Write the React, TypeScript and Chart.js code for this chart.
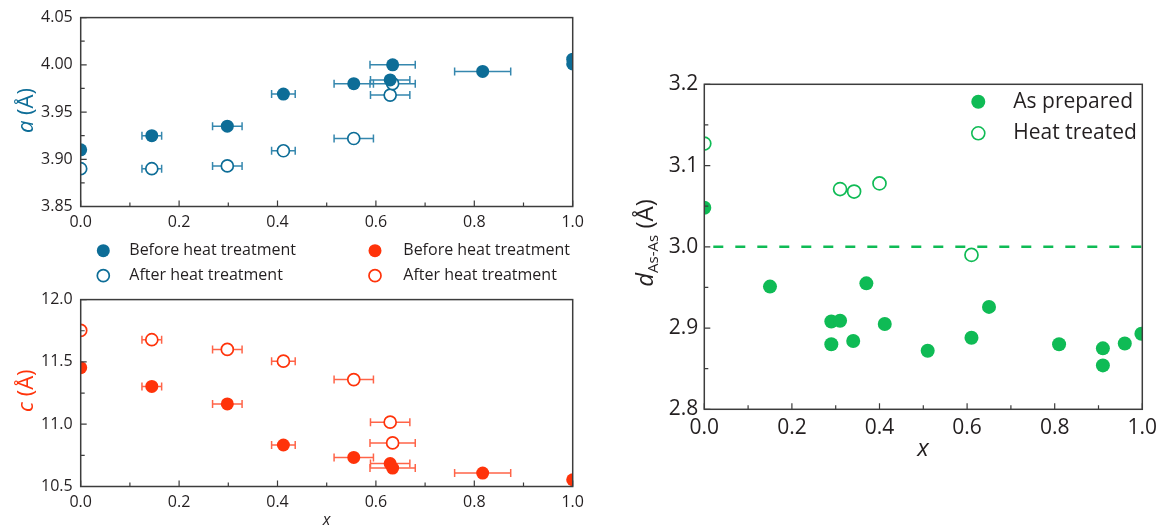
import React, { useEffect, useRef } from "react";
import { Chart, registerables } from "chart.js";
Chart.register(...registerables);

// ---------- data ----------
const aBeforeX = [0, 0.1445, 0.298, 0.412, 0.555, 0.629, 0.634, 0.817, 1.0, 1.0];
const aBeforeY = [3.91, 3.925, 3.935, 3.969, 3.98, 3.984, 4.0, 3.993, 4.006, 4.001];
const aBeforeXErr = [0, 0.02, 0.03, 0.024, 0.04, 0.04, 0.046, 0.057, 0, 0];
const aAfterX = [0, 0.1445, 0.298, 0.412, 0.555, 0.629, 0.634];
const aAfterY = [3.89, 3.89, 3.893, 3.909, 3.922, 3.968, 3.98];
const aAfterXErr = [0, 0.02, 0.03, 0.024, 0.04, 0.04, 0.046];

const cBeforeX = [0, 0.1445, 0.298, 0.412, 0.555, 0.629, 0.634, 0.817, 1.0];
const cBeforeY = [11.454, 11.303, 11.163, 10.833, 10.733, 10.684, 10.648, 10.608, 10.554];
const cBeforeXErr = [0, 0.02, 0.03, 0.024, 0.04, 0.04, 0.046, 0.057, 0];
const cAfterX = [0, 0.1445, 0.298, 0.412, 0.555, 0.629, 0.634];
const cAfterY = [11.753, 11.678, 11.6, 11.506, 11.358, 11.016, 10.85];
const cAfterXErr = [0, 0.02, 0.03, 0.024, 0.04, 0.04, 0.046];

const dPrepX = [0, 0.15, 0.29, 0.31, 0.29, 0.34, 0.37, 0.412, 0.51, 0.61, 0.65, 0.81, 0.91, 0.91, 0.96, 0.998];
const dPrepY = [3.048, 2.951, 2.908, 2.909, 2.88, 2.884, 2.955, 2.905, 2.872, 2.888, 2.926, 2.88, 2.875, 2.854, 2.881, 2.893];
const dHeatX = [0, 0.31, 0.342, 0.4, 0.61];
const dHeatY = [3.127, 3.071, 3.068, 3.078, 2.99];
const dRefX = [0, 1];
const dRefY = [3.0, 3.0];

const legendLeftLabels = ["Before heat treatment", "After heat treatment"];
const legendRightLabels = ["As prepared", "Heat treated"];

// ---------- styles ----------
const BLUE = "#0d6d97";
const BLUE_BAR = "#3587ae";
const RED = "#ff330a";
const RED_BAR = "#ff6448";
const GREEN = "#0fbb55";
const TEXT = "#231f20";
const FRAME = "#3c3c3c";
const FONT = "'Open Sans', 'Noto Sans', sans-serif";

const pts = (xs: number[], ys: number[]) => xs.map((x, i) => ({ x, y: ys[i] }));

type Extra = (ctx: CanvasRenderingContext2D) => void;

interface PanelCfg {
  width: number;
  height: number;
  area: { left: number; top: number; right: number; bottom: number };
  datasets: any[];
  x: { min: number; max: number; step: number; dec: number };
  y: { min: number; max: number; step: number; dec: number };
  tickFont: number;
  yPad: number;
  xPad: number;
  extra: Extra;
}

function drawMarker(ctx: CanvasRenderingContext2D, x: number, y: number, r: number, color: string, filled: boolean, lw: number) {
  ctx.beginPath();
  ctx.arc(x, y, r, 0, Math.PI * 2);
  if (filled) {
    ctx.fillStyle = color;
    ctx.fill();
  } else {
    ctx.fillStyle = "#ffffff";
    ctx.fill();
    ctx.lineWidth = lw;
    ctx.strokeStyle = color;
    ctx.stroke();
  }
}

const errorBarPlugin = {
  id: "errorBars",
  beforeDatasetsDraw(chart: any) {
    const ctx = chart.ctx;
    const xs = chart.scales.x;
    const ys = chart.scales.y;
    const a = chart.chartArea;
    ctx.save();
    ctx.beginPath();
    ctx.rect(a.left, a.top, a.right - a.left, a.bottom - a.top);
    ctx.clip();
    chart.data.datasets.forEach((ds: any) => {
      if (!ds.xErr) return;
      ctx.strokeStyle = ds.barColor;
      ctx.lineWidth = 1.5;
      ds.data.forEach((p: any, i: number) => {
        const e = ds.xErr[i];
        if (!e) return;
        const y = ys.getPixelForValue(p.y);
        const x1 = xs.getPixelForValue(p.x - e);
        const x2 = xs.getPixelForValue(p.x + e);
        ctx.beginPath();
        ctx.moveTo(x1, y);
        ctx.lineTo(x2, y);
        ctx.moveTo(x1, y - 4);
        ctx.lineTo(x1, y + 4);
        ctx.moveTo(x2, y - 4);
        ctx.lineTo(x2, y + 4);
        ctx.stroke();
      });
    });
    ctx.restore();
  },
};

function makeFramePlugin(extra: Extra) {
  return {
    id: "frame",
    afterDatasetsDraw(chart: any) {
      const ctx = chart.ctx;
      const a = chart.chartArea;
      const xs = chart.scales.x;
      const ys = chart.scales.y;
      ctx.save();
      ctx.strokeStyle = FRAME;
      ctx.lineWidth = 1.5;
      ctx.strokeRect(a.left, a.top, a.right - a.left, a.bottom - a.top);
      ctx.lineWidth = 1.2;
      const xt = xs.ticks.map((t: any) => t.value);
      const yt = ys.ticks.map((t: any) => t.value);
      ctx.beginPath();
      xt.forEach((v: number, i: number) => {
        const px = xs.getPixelForValue(v);
        ctx.moveTo(px, a.bottom);
        ctx.lineTo(px, a.bottom - 6);
        if (i < xt.length - 1) {
          const m = xs.getPixelForValue((v + xt[i + 1]) / 2);
          ctx.moveTo(m, a.bottom);
          ctx.lineTo(m, a.bottom - 4);
        }
      });
      yt.forEach((v: number, i: number) => {
        const py = ys.getPixelForValue(v);
        ctx.moveTo(a.left, py);
        ctx.lineTo(a.left + 6, py);
        if (i < yt.length - 1) {
          const m = ys.getPixelForValue((v + yt[i + 1]) / 2);
          ctx.moveTo(a.left, m);
          ctx.lineTo(a.left + 4, m);
        }
      });
      ctx.stroke();
      ctx.restore();
    },
    afterDraw(chart: any) {
      chart.ctx.save();
      extra(chart.ctx);
      chart.ctx.restore();
    },
  };
}

function buildChart(canvas: HTMLCanvasElement, cfg: PanelCfg) {
  const { area } = cfg;
  return new Chart(canvas, {
    type: "scatter",
    data: { datasets: cfg.datasets },
    plugins: [errorBarPlugin, makeFramePlugin(cfg.extra)],
    options: {
      responsive: false,
      animation: false,
      events: [],
      layout: { padding: { left: 0, top: area.top, right: cfg.width - area.right, bottom: 0 } },
      plugins: {
        legend: { display: false },
        tooltip: { enabled: false },
      },
      scales: {
        x: {
          type: "linear",
          min: cfg.x.min,
          max: cfg.x.max,
          afterFit: (s: any) => {
            s.height = cfg.height - area.bottom;
          },
          grid: { display: false, drawTicks: false },
          border: { display: false },
          ticks: {
            stepSize: cfg.x.step,
            autoSkip: false,
            maxRotation: 0,
            padding: cfg.xPad,
            color: TEXT,
            font: { family: FONT, size: cfg.tickFont },
            callback: (v: any) => Number(v).toFixed(cfg.x.dec),
          },
        },
        y: {
          type: "linear",
          min: cfg.y.min,
          max: cfg.y.max,
          afterFit: (s: any) => {
            s.width = area.left;
          },
          grid: { display: false, drawTicks: false },
          border: { display: false },
          ticks: {
            stepSize: cfg.y.step,
            autoSkip: false,
            padding: cfg.yPad,
            color: TEXT,
            font: { family: FONT, size: cfg.tickFont },
            callback: (v: any) => Number(v).toFixed(cfg.y.dec),
          },
        },
      },
    } as any,
  });
}

function scatterDs(xs: number[], ys: number[], color: string, filled: boolean, r: number, err?: number[], barColor?: string) {
  return {
    type: "scatter",
    data: pts(xs, ys),
    pointRadius: r,
    pointBackgroundColor: filled ? color : "#ffffff",
    pointBorderColor: color,
    pointBorderWidth: filled ? 0 : 1.7,
    showLine: false,
    clip: 0,
    xErr: err,
    barColor,
  };
}

function yTitle(ctx: CanvasRenderingContext2D, cx: number, cy: number, italic: string, rest: string, color: string, size: number) {
  ctx.save();
  ctx.translate(cx, cy);
  ctx.rotate(-Math.PI / 2);
  ctx.fillStyle = color;
  ctx.textBaseline = "middle";
  ctx.font = `italic ${size}px ${FONT}`;
  const w1 = ctx.measureText(italic).width;
  ctx.font = `${size}px ${FONT}`;
  const w2 = ctx.measureText(rest).width;
  const x = -(w1 + w2) / 2;
  ctx.font = `italic ${size}px ${FONT}`;
  ctx.textAlign = "left";
  ctx.fillText(italic, x, 0);
  ctx.font = `${size}px ${FONT}`;
  ctx.fillText(rest, x + w1, 0);
  ctx.restore();
}

function Panel({ left, top, cfg }: { left: number; top: number; cfg: PanelCfg }) {
  const ref = useRef<HTMLCanvasElement>(null);
  useEffect(() => {
    if (!ref.current) return;
    const ch = buildChart(ref.current, cfg);
    return () => ch.destroy();
  }, []);
  return (
    <canvas
      ref={ref}
      width={cfg.width}
      height={cfg.height}
      style={{ position: "absolute", left, top, width: cfg.width, height: cfg.height }}
    />
  );
}

const cfgA: PanelCfg = {
  width: 600,
  height: 290,
  area: { left: 80.7, top: 14.7, right: 572.7, bottom: 206.5 },
  datasets: [
    scatterDs(aBeforeX, aBeforeY, BLUE, true, 6.5, aBeforeXErr, BLUE_BAR),
    scatterDs(aAfterX, aAfterY, BLUE, false, 6, aAfterXErr, BLUE_BAR),
  ],
  x: { min: 0, max: 1, step: 0.2, dec: 1 },
  y: { min: 3.85, max: 4.05, step: 0.05, dec: 2 },
  tickFont: 16,
  yPad: 8,
  xPad: 6,
  extra: (ctx) => {
    yTitle(ctx, 27, 110.6, "a", " (Å)", BLUE, 22);
    const rows = [250.7, 275.7];
    [
      { mx: 103.3, tx: 129.3, color: BLUE },
      { mx: 375, tx: 403.3, color: RED },
    ].forEach((col) => {
      rows.forEach((ry, i) => {
        drawMarker(ctx, col.mx, ry, i === 0 ? 6.5 : 6, col.color, i === 0, 1.7);
        ctx.fillStyle = TEXT;
        ctx.font = `16px ${FONT}`;
        ctx.textBaseline = "middle";
        ctx.textAlign = "left";
        ctx.fillText(legendLeftLabels[i], col.tx, ry);
      });
    });
  },
};

const B_TOP = 282;
const cfgB: PanelCfg = {
  width: 600,
  height: 529 - B_TOP,
  area: { left: 80.7, top: 295 - B_TOP, right: 572.7, bottom: 486.5 - B_TOP },
  datasets: [
    scatterDs(cBeforeX, cBeforeY, RED, true, 6.5, cBeforeXErr, RED_BAR),
    scatterDs(cAfterX, cAfterY, RED, false, 6, cAfterXErr, RED_BAR),
  ],
  x: { min: 0, max: 1, step: 0.2, dec: 1 },
  y: { min: 10.5, max: 12.0, step: 0.5, dec: 1 },
  tickFont: 16,
  yPad: 8,
  xPad: 6,
  extra: (ctx) => {
    yTitle(ctx, 27, 390.7 - B_TOP, "c", " (Å)", RED, 22);
    ctx.fillStyle = TEXT;
    ctx.font = `italic 16px ${FONT}`;
    ctx.textAlign = "center";
    ctx.textBaseline = "middle";
    ctx.fillText("x", 326.7, 520 - B_TOP);
  },
};

const C_LEFT = 600;
const cfgC: PanelCfg = {
  width: 567,
  height: 529,
  area: { left: 704.3 - C_LEFT, top: 84.3, right: 1142.3 - C_LEFT, bottom: 409.3 },
  datasets: [
    {
      type: "line",
      data: pts(dRefX, dRefY),
      borderColor: GREEN,
      borderWidth: 2.5,
      borderDash: [10, 12],
      borderDashOffset: 13,
      pointRadius: 0,
      clip: 0,
    },
    scatterDs(dPrepX, dPrepY, GREEN, true, 7),
    scatterDs(dHeatX, dHeatY, GREEN, false, 6.5),
  ],
  x: { min: 0, max: 1, step: 0.2, dec: 1 },
  y: { min: 2.8, max: 3.2, step: 0.1, dec: 1 },
  tickFont: 21,
  yPad: 6,
  xPad: 6,
  extra: (ctx) => {
    ctx.save();
    ctx.translate(645 - C_LEFT, 243);
    ctx.rotate(-Math.PI / 2);
    ctx.fillStyle = TEXT;
    ctx.textBaseline = "alphabetic";
    ctx.textAlign = "left";
    ctx.font = `italic 24px ${FONT}`;
    const wd = ctx.measureText("d").width;
    ctx.font = `15px ${FONT}`;
    const ws = ctx.measureText("As-As").width;
    ctx.font = `24px ${FONT}`;
    const wr = ctx.measureText(" (Å)").width;
    let x = -(wd + ws + wr) / 2;
    const base = 8;
    ctx.font = `italic 24px ${FONT}`;
    ctx.fillText("d", x, base);
    x += wd;
    ctx.font = `15px ${FONT}`;
    ctx.fillText("As-As", x, base + 5);
    x += ws;
    ctx.font = `24px ${FONT}`;
    ctx.fillText(" (Å)", x, base);
    ctx.restore();
    ctx.fillStyle = TEXT;
    ctx.font = `italic 24px ${FONT}`;
    ctx.textAlign = "center";
    ctx.textBaseline = "middle";
    ctx.fillText("x", 923 - C_LEFT, 449);
    const rows = [101.7, 133.3];
    rows.forEach((ry, i) => {
      drawMarker(ctx, 978.3 - C_LEFT, ry, i === 0 ? 7 : 6.5, GREEN, i === 0, 1.6);
      ctx.fillStyle = TEXT;
      ctx.font = `21px ${FONT}`;
      ctx.textAlign = "left";
      ctx.textBaseline = "middle";
      ctx.fillText(legendRightLabels[i], 1013.3 - C_LEFT, ry);
    });
  },
};

export default function App() {
  return (
    <div style={{ position: "absolute", left: 0, top: 0, width: 1167, height: 529, background: "#ffffff", overflow: "hidden" }}>
      <Panel left={0} top={0} cfg={cfgA} />
      <Panel left={0} top={B_TOP} cfg={cfgB} />
      <Panel left={C_LEFT} top={0} cfg={cfgC} />
    </div>
  );
}
